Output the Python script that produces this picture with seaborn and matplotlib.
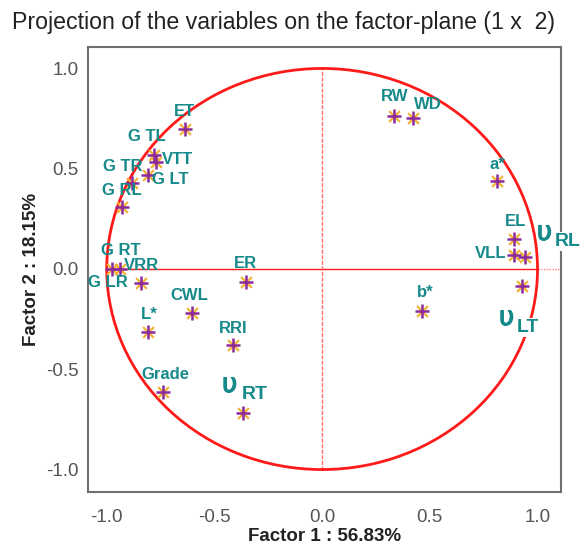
import matplotlib
matplotlib.use("Agg")
import matplotlib.pyplot as plt
import matplotlib.patheffects as pe
from matplotlib.patches import Circle
import seaborn as sns
import pandas as pd

# ---- data ----
labels = ["ET", "G TL", "VTT", "G LT", "G TR", "G RL", "G RT", "G LR", "VRR", "ER",
          "CWL", "L*", "RRI", "Grade", "RT", "RW", "WD", "a*", "EL", "VLL", "RL", "LT", "b*"]
factor1 = [-0.638, -0.782, -0.773, -0.810, -0.884, -0.930, -0.977, -0.940, -0.842, -0.355,
           -0.606, -0.810, -0.415, -0.740, -0.369, 0.332, 0.420, 0.814, 0.893, 0.889,
           0.944, 0.926, 0.462]
factor2 = [0.698, 0.569, 0.534, 0.469, 0.429, 0.309, 0.000, 0.000, -0.070, -0.065,
           -0.219, -0.314, -0.379, -0.613, -0.718, 0.763, 0.753, 0.439, 0.150, 0.070,
           0.060, -0.085, -0.209]
upsilon_labels = ["RT", "RL", "LT"]
x_ticks = [-1.0, -0.5, 0.0, 0.5, 1.0]
y_ticks = [-1.0, -0.5, 0.0, 0.5, 1.0]
title = "Projection of the variables on the factor-plane (1 x  2)"
xlabel = "Factor 1 : 56.83%"
ylabel = "Factor 2 : 18.15%"

df = pd.DataFrame({"label": labels, "f1": factor1, "f2": factor2})

# label offsets in pixels (dx, dy up)
offsets = {
    "ET": (0, 18), "G TL": (-7, 18), "VTT": (22, 2), "G LT": (23, -5),
    "G TR": (-9, 16), "G RL": (0, 17), "G RT": (9, 18), "G LR": (-12, -14),
    "VRR": (1, 18), "ER": (0, 19), "CWL": (-2, 17), "L*": (2, 17), "RRI": (0, 17),
    "Grade": (3, 17), "RW": (1, 19), "WD": (15, 13), "a*": (0, 16), "EL": (1, 17),
    "VLL": (-23, 1), "b*": (4, 18),
}
ups_offsets = {"RT": ((-13, 28), (12, 18)), "RL": ((19, 24), (42, 15)), "LT": ((-15, -32), (6, -41))}

sns.set_theme(style="white")
plt.rcParams["font.family"] = ["Liberation Sans", "DejaVu Sans"]

fig = plt.figure(figsize=(5.82, 5.48), dpi=100)
ax = fig.add_axes([88 / 582, 1 - 492 / 548, (561 - 88) / 582, (492 - 47) / 548])

red = "#ff1a1a"
ax.add_patch(Circle((0, 0), 1.0, fill=False, edgecolor=red, lw=2.0, zorder=2))
ax.plot([-1, 1], [0, 0], color=red, lw=1.0, zorder=1)
ax.plot([1, 1.109], [0, 0], color="#ff8080", lw=1.0, ls=(0, (1, 1)), zorder=1)
ax.plot([0, 0], [-1, 1], color="#ff7070", lw=1.0, ls=(0, (3, 1)), zorder=1)

sns.scatterplot(data=df, x="f1", y="f2", marker="x", s=60, color="#f2b233",
                linewidth=1.6, ax=ax, zorder=3, legend=False)
sns.scatterplot(data=df, x="f1", y="f2", marker="+", s=90, color="#8b2a9b",
                linewidth=1.8, ax=ax, zorder=4, legend=False)

teal = "#16898a"
for lab, x, y in zip(df["label"], df["f1"], df["f2"]):
    if lab in upsilon_labels:
        (ux, uy), (sx, sy) = ups_offsets[lab]
        ax.annotate("υ", (x, y), xytext=(ux, uy), textcoords="offset pixels",
                    ha="center", va="center", fontsize=19,
                    family=["DejaVu Sans"], color=teal, zorder=6,
                    path_effects=[pe.withStroke(linewidth=0.9, foreground=teal)])
        ax.annotate(lab, (x, y), xytext=(sx, sy), textcoords="offset pixels",
                    ha="center", va="center", fontsize=14, fontweight="bold",
                    color=teal, zorder=6, annotation_clip=False,
                    bbox=dict(boxstyle="square,pad=0.05", fc="white", ec="none"))
    else:
        dx, dy = offsets[lab]
        ax.annotate(lab, (x, y), xytext=(dx, dy), textcoords="offset pixels",
                    ha="center", va="center", fontsize=12, fontweight="bold",
                    color=teal, zorder=5)

ax.set_xlim(-1.087, 1.109)
ax.set_ylim(-1.112, 1.107)
ax.set_xticks(x_ticks)
ax.set_yticks(y_ticks)
ax.set_xticklabels([f"{t:.1f}" for t in x_ticks])
ax.set_yticklabels([f"{t:.1f}" for t in y_ticks])
ax.tick_params(axis="both", length=0, labelsize=13.5, labelcolor="#555555")
ax.tick_params(axis="x", pad=12)
ax.tick_params(axis="y", pad=7)
for sp in ax.spines.values():
    sp.set_color("#707070")
    sp.set_linewidth(1.5)
    sp.set_zorder(4.5)

ax.set_xlabel(xlabel, fontsize=13.5, fontweight="bold", color="#222222", labelpad=2)
ax.set_ylabel(ylabel, fontsize=13.5, fontweight="bold", color="#222222", labelpad=4)
fig.text(284 / 582, 1 - 23 / 548, title, ha="center", va="center", fontsize=16.7, color="#222222")

fig.savefig("out.png", dpi=100, facecolor="white")
